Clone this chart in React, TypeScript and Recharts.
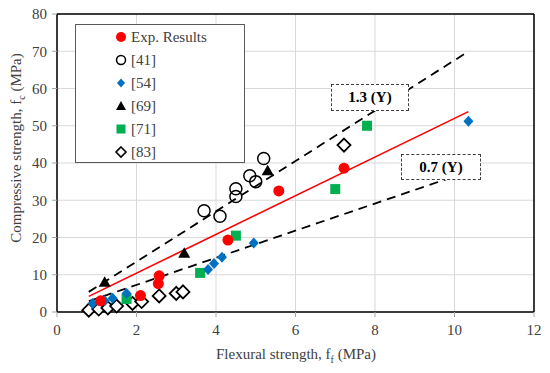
import React from 'react'
import {
  ScatterChart,
  Scatter,
  XAxis,
  YAxis,
  CartesianGrid,
  ReferenceLine,
} from 'recharts'

type Pt = { x: number; y: number }

// values
const expResults: Pt[] = [
  { x: 1.1, y: 3.0 }, { x: 2.1, y: 4.4 }, { x: 2.55, y: 7.6 }, { x: 2.57, y: 9.7 },
  { x: 4.3, y: 19.3 }, { x: 5.58, y: 32.5 }, { x: 7.22, y: 38.6 },
]
const ref41: Pt[] = [
  { x: 3.7, y: 27.2 }, { x: 4.1, y: 25.7 }, { x: 4.5, y: 31.0 }, { x: 4.5, y: 33.1 },
  { x: 4.85, y: 36.6 }, { x: 5.0, y: 35.0 }, { x: 5.2, y: 41.2 },
]
const ref54: Pt[] = [
  { x: 0.9, y: 2.3 }, { x: 1.2, y: 3.0 }, { x: 1.4, y: 3.7 }, { x: 1.75, y: 5.0 },
  { x: 3.8, y: 11.4 }, { x: 3.95, y: 13.0 }, { x: 4.15, y: 14.7 }, { x: 4.95, y: 18.5 },
  { x: 10.35, y: 51.2 },
]
const ref69: Pt[] = [{ x: 1.2, y: 8.0 }, { x: 3.2, y: 15.8 }, { x: 5.3, y: 37.9 }]
const ref71: Pt[] = [
  { x: 1.75, y: 3.5 }, { x: 3.6, y: 10.5 }, { x: 4.5, y: 20.5 }, { x: 7.0, y: 33.0 }, { x: 7.8, y: 50.0 },
]
const ref83: Pt[] = [
  { x: 0.8, y: 0.5 }, { x: 1.05, y: 0.8 }, { x: 1.28, y: 1.1 }, { x: 1.5, y: 1.6 },
  { x: 1.9, y: 2.3 }, { x: 2.13, y: 2.8 }, { x: 2.57, y: 4.3 }, { x: 3.0, y: 5.0 },
  { x: 3.17, y: 5.4 }, { x: 7.22, y: 44.8 },
]

// trend line end points
const fitLine: Pt[] = [{ x: 0.8, y: 4.2 }, { x: 10.35, y: 53.8 }]
const upperLine: Pt[] = [{ x: 0.8, y: 5.4 }, { x: 10.3, y: 69.6 }]
const lowerLine: Pt[] = [{ x: 0.8, y: 2.9 }, { x: 10.3, y: 37.5 }]

const xTicks = [0, 2, 4, 6, 8, 10, 12]
const yTicks = [0, 10, 20, 30, 40, 50, 60, 70, 80]

const FONT = '"Liberation Serif", "DejaVu Serif", serif'
const RED = '#FF0000'
const BLUE = '#0070C0'
const GREEN = '#00B050'

const none = () => <g />
const redDot = (p: any) => <circle cx={p.cx} cy={p.cy} r={5.5} fill={RED} />
const openCircle = (p: any) => (
  <circle cx={p.cx} cy={p.cy} r={6} fill="none" stroke="#000" strokeWidth={1.5} />
)
const blueDiamond = (p: any) => (
  <path d={`M${p.cx},${p.cy - 5.5}L${p.cx + 5},${p.cy}L${p.cx},${p.cy + 5.5}L${p.cx - 5},${p.cy}Z`} fill={BLUE} />
)
const triangle = (p: any) => (
  <path d={`M${p.cx},${p.cy - 6}L${p.cx + 6},${p.cy + 4.5}L${p.cx - 6},${p.cy + 4.5}Z`} fill="#000" />
)
const greenSquare = (p: any) => (
  <rect x={p.cx - 5} y={p.cy - 5} width={10} height={10} fill={GREEN} />
)
const openDiamond = (p: any) => (
  <path
    d={`M${p.cx},${p.cy - 6.5}L${p.cx + 6.5},${p.cy}L${p.cx},${p.cy + 6.5}L${p.cx - 6.5},${p.cy}Z`}
    fill="#fff"
    stroke="#000"
    strokeWidth={1.8}
  />
)

const legendItems = [
  { label: 'Exp. Results', icon: <circle cx={8} cy={8} r={5} fill={RED} /> },
  { label: '[41]', icon: <circle cx={8} cy={8} r={4.5} fill="none" stroke="#000" strokeWidth={1.5} /> },
  { label: '[54]', icon: <path d="M8,3.5L12,8L8,12.5L4,8Z" fill={BLUE} /> },
  { label: '[69]', icon: <path d="M8,3L13,12L3,12Z" fill="#000" /> },
  { label: '[71]', icon: <rect x={3.5} y={3.5} width={9} height={9} fill={GREEN} /> },
  { label: '[83]', icon: <path d="M8,3L13,8L8,13L3,8Z" fill="#fff" stroke="#000" strokeWidth={1.6} /> },
]

// dashed annotation boxes (drawn above the lines)
const notes = [
  { text: '1.3 (Y)', left: 331, top: 84, width: 78, height: 27 },
  { text: '0.7 (Y)', left: 401, top: 154, width: 80, height: 26 },
]

export default function App() {
  return (
    <div style={{ position: 'absolute', left: 0, top: 0, width: 550, height: 373, background: '#fff' }}>
      <ScatterChart width={550} height={373} margin={{ top: 14, right: 16, bottom: 31, left: 7 }}>
        <CartesianGrid stroke="#d9d9d9" strokeWidth={1} />
        <XAxis
          type="number"
          dataKey="x"
          domain={[0, 12]}
          ticks={xTicks}
          height={30}
          tick={{ fill: '#404040', fontSize: 15, fontFamily: FONT }}
          tickLine={{ stroke: '#a6a6a6' }}
          tickSize={5}
          tickMargin={7}
          axisLine={{ stroke: '#000', strokeWidth: 1.5 }}
          label={{
            content: () => (
              <text x={296} y={359} textAnchor="middle" fill="#404040" fontSize={15} fontFamily={FONT}>
                Flexural strength, f<tspan dy={4} fontSize={10}>f</tspan>
                <tspan dy={-4}> (MPa)</tspan>
              </text>
            ),
          }}
        />
        <YAxis
          type="number"
          dataKey="y"
          domain={[0, 80]}
          ticks={yTicks}
          width={50}
          tick={{ fill: '#404040', fontSize: 15, fontFamily: FONT }}
          tickLine={{ stroke: '#a6a6a6' }}
          tickSize={5}
          tickMargin={5}
          axisLine={{ stroke: '#000', strokeWidth: 1.5 }}
          label={{
            content: () => (
              <text
                x={0}
                y={0}
                transform="translate(21,148) rotate(-90)"
                textAnchor="middle"
                fill="#404040"
                fontSize={15}
                fontFamily={FONT}
              >
                Compressive strength, f<tspan dy={4} fontSize={10}>c</tspan>
                <tspan dy={-4}> (MPa)</tspan>
              </text>
            ),
          }}
        />
        <ReferenceLine x={12} stroke="#000" strokeWidth={1.5} />
        <ReferenceLine y={80} stroke="#000" strokeWidth={1.5} />

        <Scatter data={upperLine} shape={none} line={{ stroke: '#000', strokeWidth: 1.8, strokeDasharray: '9 6' }} isAnimationActive={false} />
        <Scatter data={lowerLine} shape={none} line={{ stroke: '#000', strokeWidth: 1.8, strokeDasharray: '9 6' }} isAnimationActive={false} />
        <Scatter data={fitLine} shape={none} line={{ stroke: RED, strokeWidth: 1.6 }} isAnimationActive={false} />

        <Scatter name="[83]" data={ref83} shape={openDiamond} isAnimationActive={false} />
        <Scatter name="[71]" data={ref71} shape={greenSquare} isAnimationActive={false} />
        <Scatter name="[69]" data={ref69} shape={triangle} isAnimationActive={false} />
        <Scatter name="[54]" data={ref54} shape={blueDiamond} isAnimationActive={false} />
        <Scatter name="[41]" data={ref41} shape={openCircle} isAnimationActive={false} />
        <Scatter name="Exp. Results" data={expResults} shape={redDot} isAnimationActive={false} />
      </ScatterChart>

      {notes.map((n) => (
        <div
          key={n.text}
          style={{
            position: 'absolute',
            left: n.left,
            top: n.top,
            width: n.width - 2,
            height: n.height - 2,
            border: '1px dashed #404040',
            background: '#fff',
            fontFamily: FONT,
            fontSize: 15,
            fontWeight: 700,
            color: '#000',
            display: 'flex',
            alignItems: 'center',
            justifyContent: 'center',
          }}
        >
          {n.text}
        </div>
      ))}

      {/* legend box */}
      <div
        style={{
          position: 'absolute',
          left: 75,
          top: 24,
          width: 168,
          height: 137,
          border: '1px solid #595959',
          background: '#fff',
          fontFamily: FONT,
          fontSize: 15,
          color: '#404040',
        }}
      >
        {legendItems.map((it, i) => (
          <div
            key={it.label}
            style={{ position: 'absolute', left: 37, top: 2 + i * 23, height: 20, display: 'flex', alignItems: 'center' }}
          >
            <svg width={16} height={16} style={{ marginRight: 2 }}>
              {it.icon}
            </svg>
            <span>{it.label}</span>
          </div>
        ))}
      </div>
    </div>
  )
}
